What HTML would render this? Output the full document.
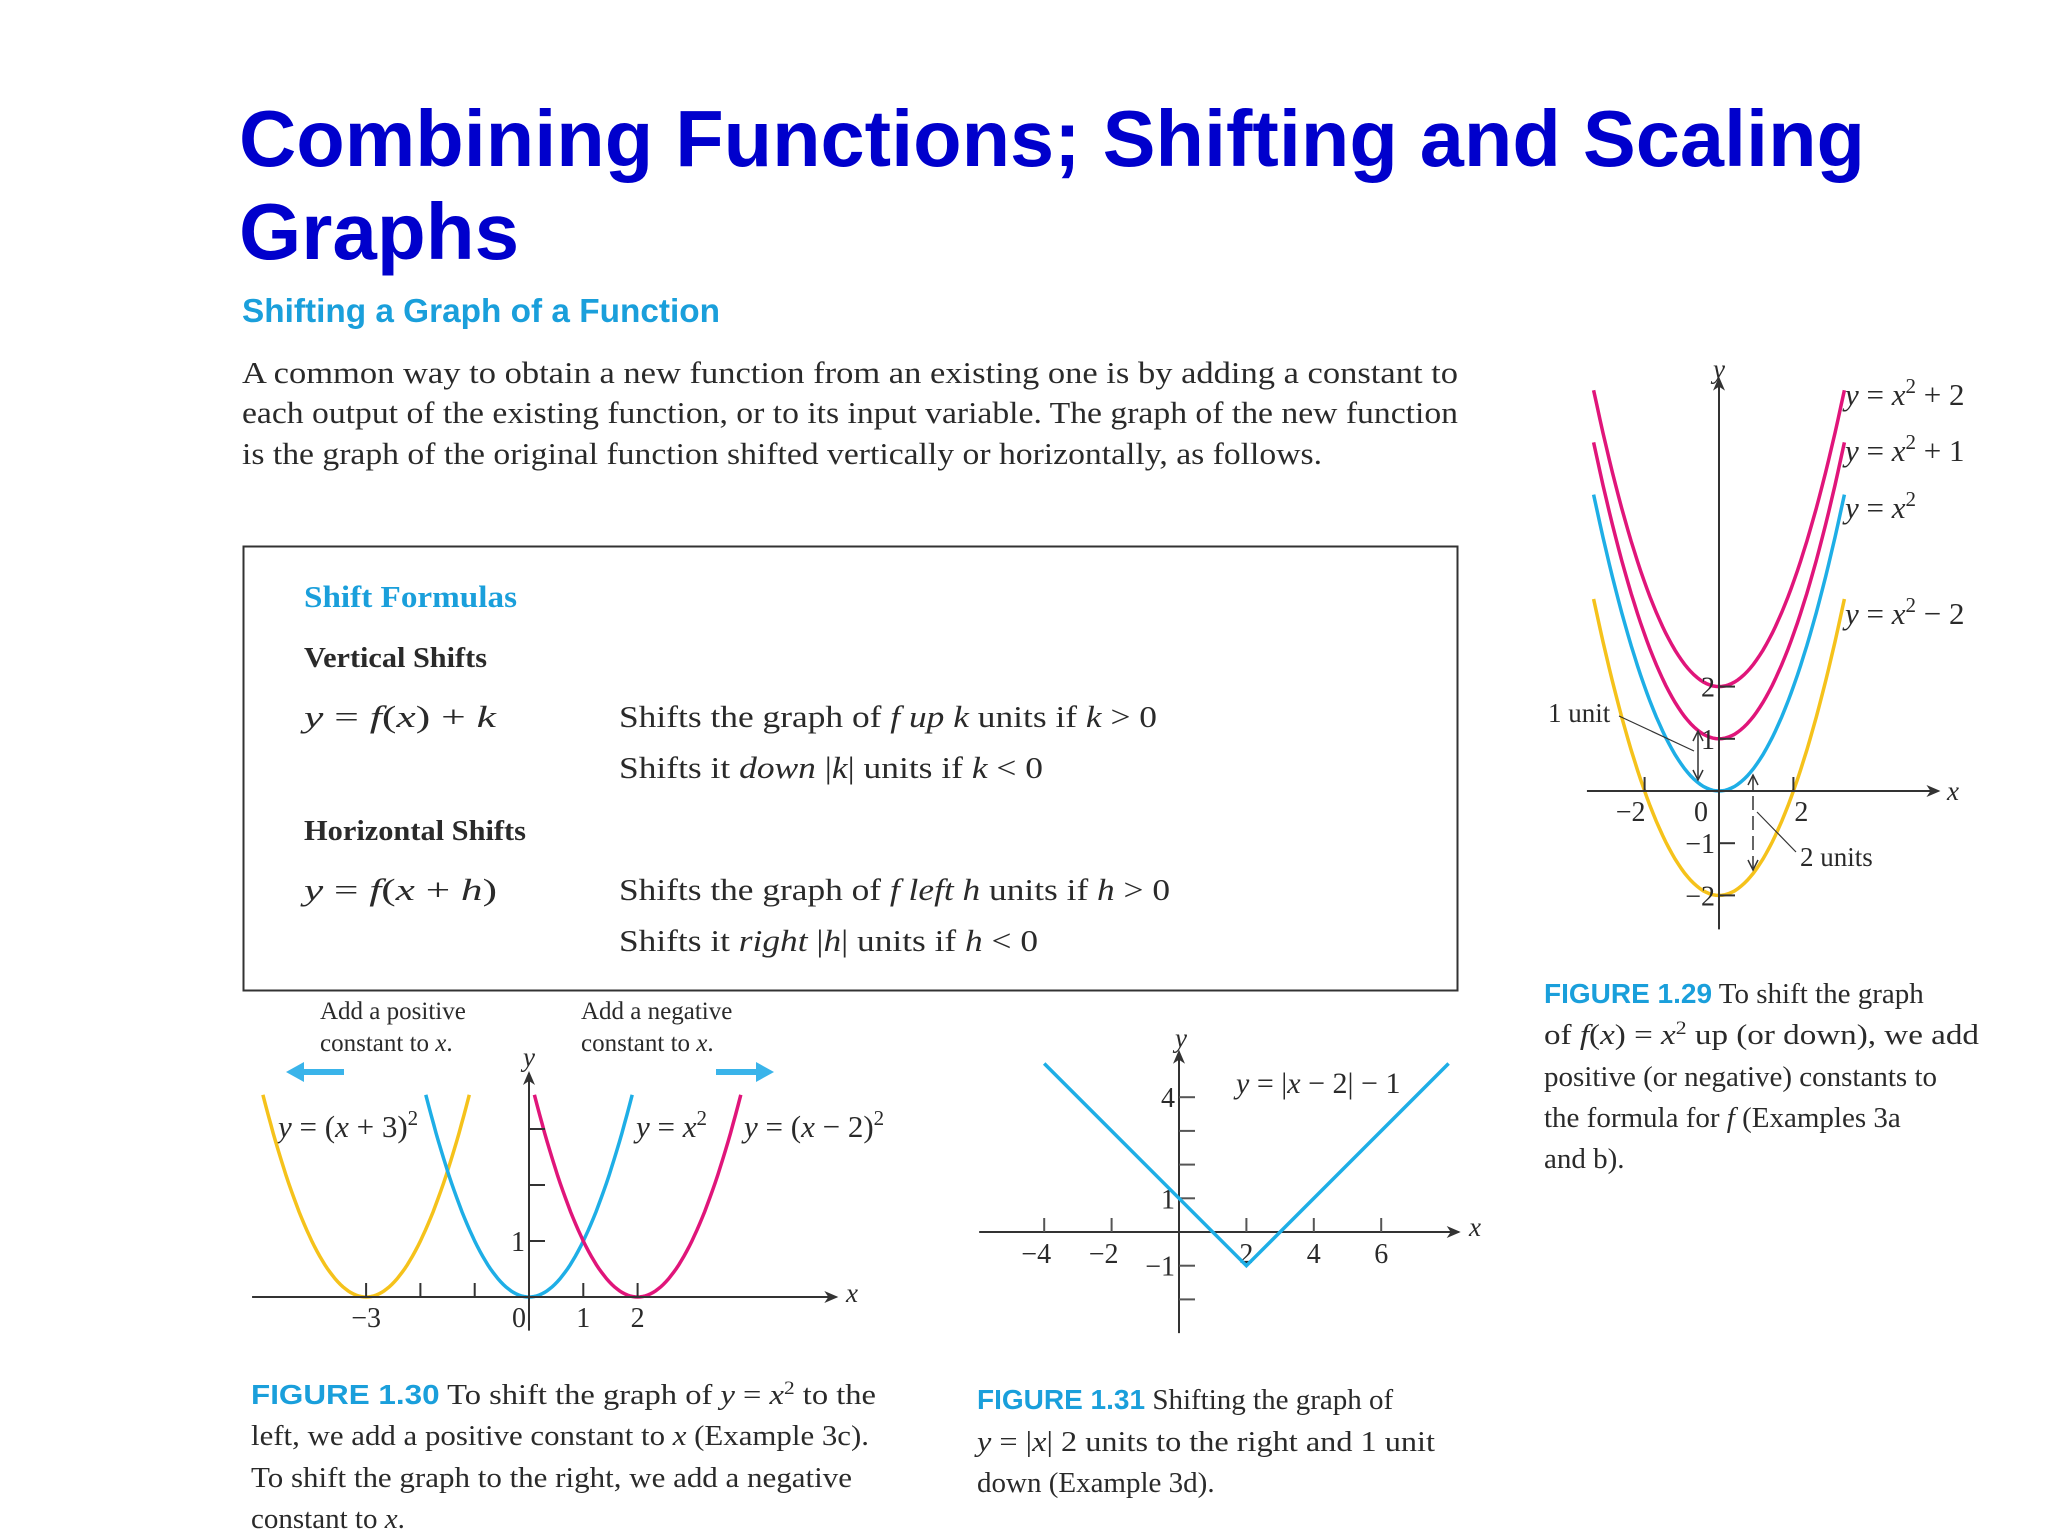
<!DOCTYPE html>
<html><head><meta charset="utf-8"><style>
html,body{margin:0;padding:0;background:#fff;}
svg{display:block;}
.serif{font-family:"Liberation Serif",serif;fill:#2a2a2a;}
.it{font-style:italic;}
.cap{font-family:"Liberation Sans",sans-serif;font-weight:bold;fill:#1a9fdb;}
</style></head><body>
<svg id="page" width="2048" height="1536" viewBox="0 0 2048 1536" xmlns="http://www.w3.org/2000/svg">
<rect width="2048" height="1536" fill="#fff"/>
<g font-family="Liberation Sans, sans-serif" font-weight="bold" font-size="80" fill="#0000cc">
<text x="239" y="166" textLength="1626" lengthAdjust="spacingAndGlyphs">Combining Functions; Shifting and Scaling</text>
<text x="239" y="259">Graphs</text>
</g>
<text x="242" y="322" font-family="Liberation Sans, sans-serif" font-weight="bold" font-size="33" fill="#1a9fdb" textLength="478" lengthAdjust="spacingAndGlyphs">Shifting a Graph of a Function</text>
<g class="serif" font-size="31">
<text x="242" y="383" textLength="1216" lengthAdjust="spacingAndGlyphs">A common way to obtain a new function from an existing one is by adding a constant to</text>
<text x="242" y="423" textLength="1216" lengthAdjust="spacingAndGlyphs">each output of the existing function, or to its input variable. The graph of the new function</text>
<text x="242" y="464" textLength="1080" lengthAdjust="spacingAndGlyphs">is the graph of the original function shifted vertically or horizontally, as follows.</text>
</g>
<g>
<rect x="243.5" y="546.5" width="1214" height="444" fill="none" stroke="#333" stroke-width="2"/>
<text x="304" y="607" font-family="Liberation Serif, serif" font-weight="bold" font-size="31" fill="#1a9fdb" textLength="213" lengthAdjust="spacingAndGlyphs">Shift Formulas</text>
<text x="304" y="667" class="serif" font-weight="bold" font-size="29" textLength="183" lengthAdjust="spacingAndGlyphs">Vertical Shifts</text>
<text x="304" y="727" class="serif" font-size="31" textLength="192" lengthAdjust="spacingAndGlyphs"><tspan class="it">y</tspan> = <tspan class="it">f</tspan>(<tspan class="it">x</tspan>) + <tspan class="it">k</tspan></text>
<text x="619" y="727" class="serif" font-size="31" textLength="538" lengthAdjust="spacingAndGlyphs">Shifts the graph of <tspan class="it">f up k</tspan> units if <tspan class="it">k</tspan> &gt; 0</text>
<text x="619" y="778" class="serif" font-size="31" textLength="424" lengthAdjust="spacingAndGlyphs">Shifts it <tspan class="it">down</tspan> |<tspan class="it">k</tspan>| units if <tspan class="it">k</tspan> &lt; 0</text>
<text x="304" y="840" class="serif" font-weight="bold" font-size="29" textLength="222" lengthAdjust="spacingAndGlyphs">Horizontal Shifts</text>
<text x="304" y="900" class="serif" font-size="31" textLength="193" lengthAdjust="spacingAndGlyphs"><tspan class="it">y</tspan> = <tspan class="it">f</tspan>(<tspan class="it">x</tspan> + <tspan class="it">h</tspan>)</text>
<text x="619" y="900" class="serif" font-size="31" textLength="551" lengthAdjust="spacingAndGlyphs">Shifts the graph of <tspan class="it">f left h</tspan> units if <tspan class="it">h</tspan> &gt; 0</text>
<text x="619" y="951" class="serif" font-size="31" textLength="419" lengthAdjust="spacingAndGlyphs">Shifts it <tspan class="it">right</tspan> |<tspan class="it">h</tspan>| units if <tspan class="it">h</tspan> &lt; 0</text>
</g>

<!-- Figure 1.29 -->
<g id="fig129">
<text class="serif it" x="1719" y="378" font-size="27" text-anchor="middle">y</text>
<text class="serif it" x="1947" y="800" font-size="27">x</text>
<text class="serif" x="1548" y="722" font-size="27">1 unit</text>
<text class="serif" x="1800" y="866" font-size="27">2 units</text>
<g class="serif" font-size="31">
<text x="1845" y="405"><tspan class="it">y</tspan> = <tspan class="it">x</tspan><tspan dy="-12" font-size="21">2</tspan><tspan dy="12"> + 2</tspan></text>
<text x="1845" y="461"><tspan class="it">y</tspan> = <tspan class="it">x</tspan><tspan dy="-12" font-size="21">2</tspan><tspan dy="12"> + 1</tspan></text>
<text x="1845" y="518"><tspan class="it">y</tspan> = <tspan class="it">x</tspan><tspan dy="-12" font-size="21">2</tspan></text>
<text x="1845" y="624"><tspan class="it">y</tspan> = <tspan class="it">x</tspan><tspan dy="-12" font-size="21">2</tspan><tspan dy="12"> − 2</tspan></text>
</g>
</g>
<g class="serif" font-size="29">
<text x="1544" y="1003"><tspan class="cap" font-size="28">FIGURE 1.29</tspan>   To shift the graph</text>
<text x="1544" y="1044" textLength="435" lengthAdjust="spacingAndGlyphs">of <tspan class="it">f</tspan>(<tspan class="it">x</tspan>) = <tspan class="it">x</tspan><tspan dy="-10" font-size="19">2</tspan><tspan dy="10"> up (or down), we add</tspan></text>
<text x="1544" y="1086">positive (or negative) constants to</text>
<text x="1544" y="1127">the formula for <tspan class="it">f</tspan> (Examples 3a</text>
<text x="1544" y="1168">and b).</text>
</g>

<!-- Figure 1.30 -->
<g id="fig130">
<g class="serif" font-size="25">
<text x="320" y="1019">Add a positive</text>
<text x="320" y="1051">constant to <tspan class="it">x</tspan>.</text>
<text x="581" y="1019">Add a negative</text>
<text x="581" y="1051">constant to <tspan class="it">x</tspan>.</text>
</g>
<g class="serif" font-size="31">
<text x="278" y="1137"><tspan class="it">y</tspan> = (<tspan class="it">x</tspan> + 3)<tspan dy="-12" font-size="21">2</tspan></text>
<text x="636" y="1137"><tspan class="it">y</tspan> = <tspan class="it">x</tspan><tspan dy="-12" font-size="21">2</tspan></text>
<text x="744" y="1137"><tspan class="it">y</tspan> = (<tspan class="it">x</tspan> − 2)<tspan dy="-12" font-size="21">2</tspan></text>
<text class="it" x="529" y="1066" text-anchor="middle" font-size="27">y</text>
<text class="it" x="846" y="1302" font-size="27">x</text>
</g>
<path d="M296 1072 L344 1072" stroke="#3ab4ea" stroke-width="6"/>
<path d="M286 1072 L304 1062 L304 1082 Z" fill="#3ab4ea"/>
<path d="M716 1072 L764 1072" stroke="#3ab4ea" stroke-width="6"/>
<path d="M774 1072 L756 1062 L756 1082 Z" fill="#3ab4ea"/>
</g>
<g class="serif" font-size="29">
<text x="251" y="1404" textLength="625" lengthAdjust="spacingAndGlyphs"><tspan class="cap" font-size="28">FIGURE 1.30</tspan>   To shift the graph of <tspan class="it">y</tspan> = <tspan class="it">x</tspan><tspan dy="-10" font-size="19">2</tspan><tspan dy="10"> to the</tspan></text>
<text x="251" y="1445" textLength="618" lengthAdjust="spacingAndGlyphs">left, we add a positive constant to <tspan class="it">x</tspan> (Example 3c).</text>
<text x="251" y="1487" textLength="601" lengthAdjust="spacingAndGlyphs">To shift the graph to the right, we add a negative</text>
<text x="251" y="1528">constant to <tspan class="it">x</tspan>.</text>
</g>

<!-- Figure 1.31 -->
<g id="fig131">
<g class="serif" font-size="30">
<text class="it" x="1181" y="1047" text-anchor="middle" font-size="27">y</text>
<text class="it" x="1469" y="1236" font-size="27">x</text>
<text x="1236" y="1093"><tspan class="it">y</tspan> = |<tspan class="it">x</tspan> − 2| − 1</text>
</g>
</g>
<g class="serif" font-size="29">
<text x="977" y="1409"><tspan class="cap" font-size="28">FIGURE 1.31</tspan>   Shifting the graph of</text>
<text x="977" y="1451" textLength="458" lengthAdjust="spacingAndGlyphs"><tspan class="it">y</tspan> = |<tspan class="it">x</tspan>| 2 units to the right and 1 unit</text>
<text x="977" y="1492">down (Example 3d).</text>
</g>
</svg>
<script>
// ---- Figure 1.29 data ----
const f29Shifts = [2, 1, 0, -2];
const f29Colors = ["#e0157a", "#e0157a", "#1eaee6", "#f5c21b"];
const f29XTicks = [-2, 2];
const f29XTickLabels = ["−2", "2"];
const f29YTicks = [2, 1, -1, -2];
const f29YTickLabels = ["2", "1", "−1", "−2"];
const f29Shape = 0.5;
const f29XRange = [-3.37, 3.37];
// ---- Figure 1.30 data ----
const f30HShifts = [-3, 0, 2];
const f30Colors = ["#f5c21b", "#1eaee6", "#e0157a"];
const f30XTicks = [-3, -2, -1, 1, 2];
const f30XTickLabels = ["−3", "", "", "1", "2"];
const f30YTicks = [1, 2, 3];
const f30YTickLabels = ["1", "", ""];
const f30HalfWidth = 1.9;
// ---- Figure 1.31 data ----
const f31X = [-4, 2, 8];
const f31Y = [5, -1, 5];
const f31XTicks = [-4, -2, 2, 4, 6];
const f31XTickLabels = ["−4", "−2", "2", "4", "6"];
const f31YTicks = [4, 3, 2, 1, -1, -2];
const f31YTickLabels = ["4", "", "", "1", "−1", ""];

const NS = "http://www.w3.org/2000/svg";
function mk(parent, tag, attrs) {
  const e = document.createElementNS(NS, tag);
  for (const k in attrs) e.setAttribute(k, attrs[k]);
  parent.appendChild(e);
  return e;
}
function axes(g, sx, sy, xr, yr) {
  const xa = mk(g, "line", {x1: sx(xr[0]), y1: sy(0), x2: sx(xr[1]), y2: sy(0), stroke: "#333", "stroke-width": 2});
  
  
  const ya = mk(g, "line", {x1: sx(0), y1: sy(yr[0]), x2: sx(0), y2: sy(yr[1]), stroke: "#333", "stroke-width": 2});
  
  
  const ax = sx(xr[1]), ay = sy(0);
  mk(g, "path", {d: `M${ax+2} ${ay} L${ax-12} ${ay-6} L${ax-8} ${ay} L${ax-12} ${ay+6} Z`, fill: "#333"});
  const bx = sx(0), by = sy(yr[1]);
  mk(g, "path", {d: `M${bx} ${by-2} L${bx-6} ${by+12} L${bx} ${by+8} L${bx+6} ${by+12} Z`, fill: "#333"});
}
function label(g, x, y, t, anchor) {
  const e = mk(g, "text", {x: x, y: y, "font-family": "Liberation Serif, serif", "font-size": 28, fill: "#2a2a2a", "text-anchor": anchor || "middle"});
  e.textContent = t;
  
  
}

// Figure 1.29
(function(){
  const g = document.getElementById("fig129");
  const ox = 1719, oy = 791, ux = 37.2, uy = 52.2;
  const sx = x => ox + x * ux, sy = y => oy - y * uy;
  f29Shifts.forEach((k, i) => {
    let d = "";
    for (let j = 0; j <= 80; j++) {
      const x = f29XRange[0] + (f29XRange[1] - f29XRange[0]) * j / 80;
      d += (j ? "L" : "M") + sx(x).toFixed(1) + " " + sy(f29Shape * x * x + k).toFixed(1);
    }
    const p = mk(g, "path", {d: d, fill: "none", stroke: f29Colors[i], "stroke-width": 3.5});
    
    
  });
  axes(g, sx, sy, [-3.55, 5.9], [-2.65, 7.9]);
  f29XTicks.forEach((t, i) => {
    mk(g, "line", {x1: sx(t), y1: sy(0), x2: sx(t), y2: sy(0) - 14, stroke: "#333", "stroke-width": 2});
    label(g, sx(t) + (t < 0 ? -14 : 8), sy(0) + 30, f29XTickLabels[i]);
  });
  label(g, sx(0) - 18, sy(0) + 30, "0");
  f29YTicks.forEach((t, i) => {
    mk(g, "line", {x1: sx(0), y1: sy(t), x2: sx(0) + 16, y2: sy(t), stroke: "#333", "stroke-width": 2});
    label(g, sx(0) - 4, sy(t) + 10, f29YTickLabels[i], "end");
  });
  // annotations
  mk(g, "line", {x1: 1619, y1: 716, x2: 1694, y2: 751, stroke: "#333", "stroke-width": 1.2});
  mk(g, "line", {x1: 1698, y1: 733, x2: 1698, y2: 778, stroke: "#333", "stroke-width": 1.5});
  mk(g, "path", {d: "M1693 741 L1698 731 L1703 741 M1693 770 L1698 780 L1703 770", fill: "none", stroke: "#333", "stroke-width": 1.5});
  mk(g, "line", {x1: 1757, y1: 812, x2: 1796, y2: 852, stroke: "#333", "stroke-width": 1.2});
  mk(g, "line", {x1: 1753, y1: 776, x2: 1753, y2: 868, stroke: "#333", "stroke-width": 1.5, "stroke-dasharray": "14 6"});
  mk(g, "path", {d: "M1748 785 L1753 775 L1758 785 M1748 860 L1753 870 L1758 860", fill: "none", stroke: "#333", "stroke-width": 1.5});
})();

// Figure 1.30
(function(){
  const g = document.getElementById("fig130");
  const ox = 529, oy = 1297, ux = 54.3, uy = 56;
  const sx = x => ox + x * ux, sy = y => oy - y * uy;
  f30HShifts.forEach((h, i) => {
    let d = "";
    for (let j = 0; j <= 80; j++) {
      const x = h - f30HalfWidth + 2 * f30HalfWidth * j / 80;
      d += (j ? "L" : "M") + sx(x).toFixed(1) + " " + sy((x - h) * (x - h)).toFixed(1);
    }
    const p = mk(g, "path", {d: d, fill: "none", stroke: f30Colors[i], "stroke-width": 3.5});
    
    
  });
  axes(g, sx, sy, [-5.1, 5.66], [-0.6, 4.0]);
  f30XTicks.forEach((t, i) => {
    mk(g, "line", {x1: sx(t), y1: sy(0), x2: sx(t), y2: sy(0) - 14, stroke: "#333", "stroke-width": 2});
    if (f30XTickLabels[i]) label(g, sx(t), sy(0) + 30, f30XTickLabels[i]);
  });
  label(g, sx(0) - 10, sy(0) + 30, "0");
  f30YTicks.forEach((t, i) => {
    mk(g, "line", {x1: sx(0), y1: sy(t), x2: sx(0) + 16, y2: sy(t), stroke: "#333", "stroke-width": 2});
    if (f30YTickLabels[i]) label(g, sx(0) - 4, sy(t) + 10, f30YTickLabels[i], "end");
  });
})();

// Figure 1.31
(function(){
  const g = document.getElementById("fig131");
  const ox = 1179, oy = 1232, ux = 33.7, uy = 33.7;
  const sx = x => ox + x * ux, sy = y => oy - y * uy;
  axes(g, sx, sy, [-5.93, 8.3], [-3.0, 5.35]);
  f31XTicks.forEach((t, i) => {
    mk(g, "line", {x1: sx(t), y1: sy(0), x2: sx(t), y2: sy(0) - 14, stroke: "#555", "stroke-width": 2});
    label(g, sx(t) - (t < 0 ? 8 : 0), sy(0) + 31, f31XTickLabels[i]);
  });
  f31YTicks.forEach((t, i) => {
    mk(g, "line", {x1: sx(0), y1: sy(t), x2: sx(0) + 16, y2: sy(t), stroke: "#555", "stroke-width": 2});
    if (f31YTickLabels[i]) label(g, sx(0) - 4, sy(t) + 10, f31YTickLabels[i], "end");
  });
  let d = "";
  f31X.forEach((x, i) => { d += (i ? "L" : "M") + sx(x) + " " + sy(f31Y[i]); });
  const p = mk(g, "path", {d: d, fill: "none", stroke: "#1eaee6", "stroke-width": 3.5});
  
  
})();
</script>
</body></html>
